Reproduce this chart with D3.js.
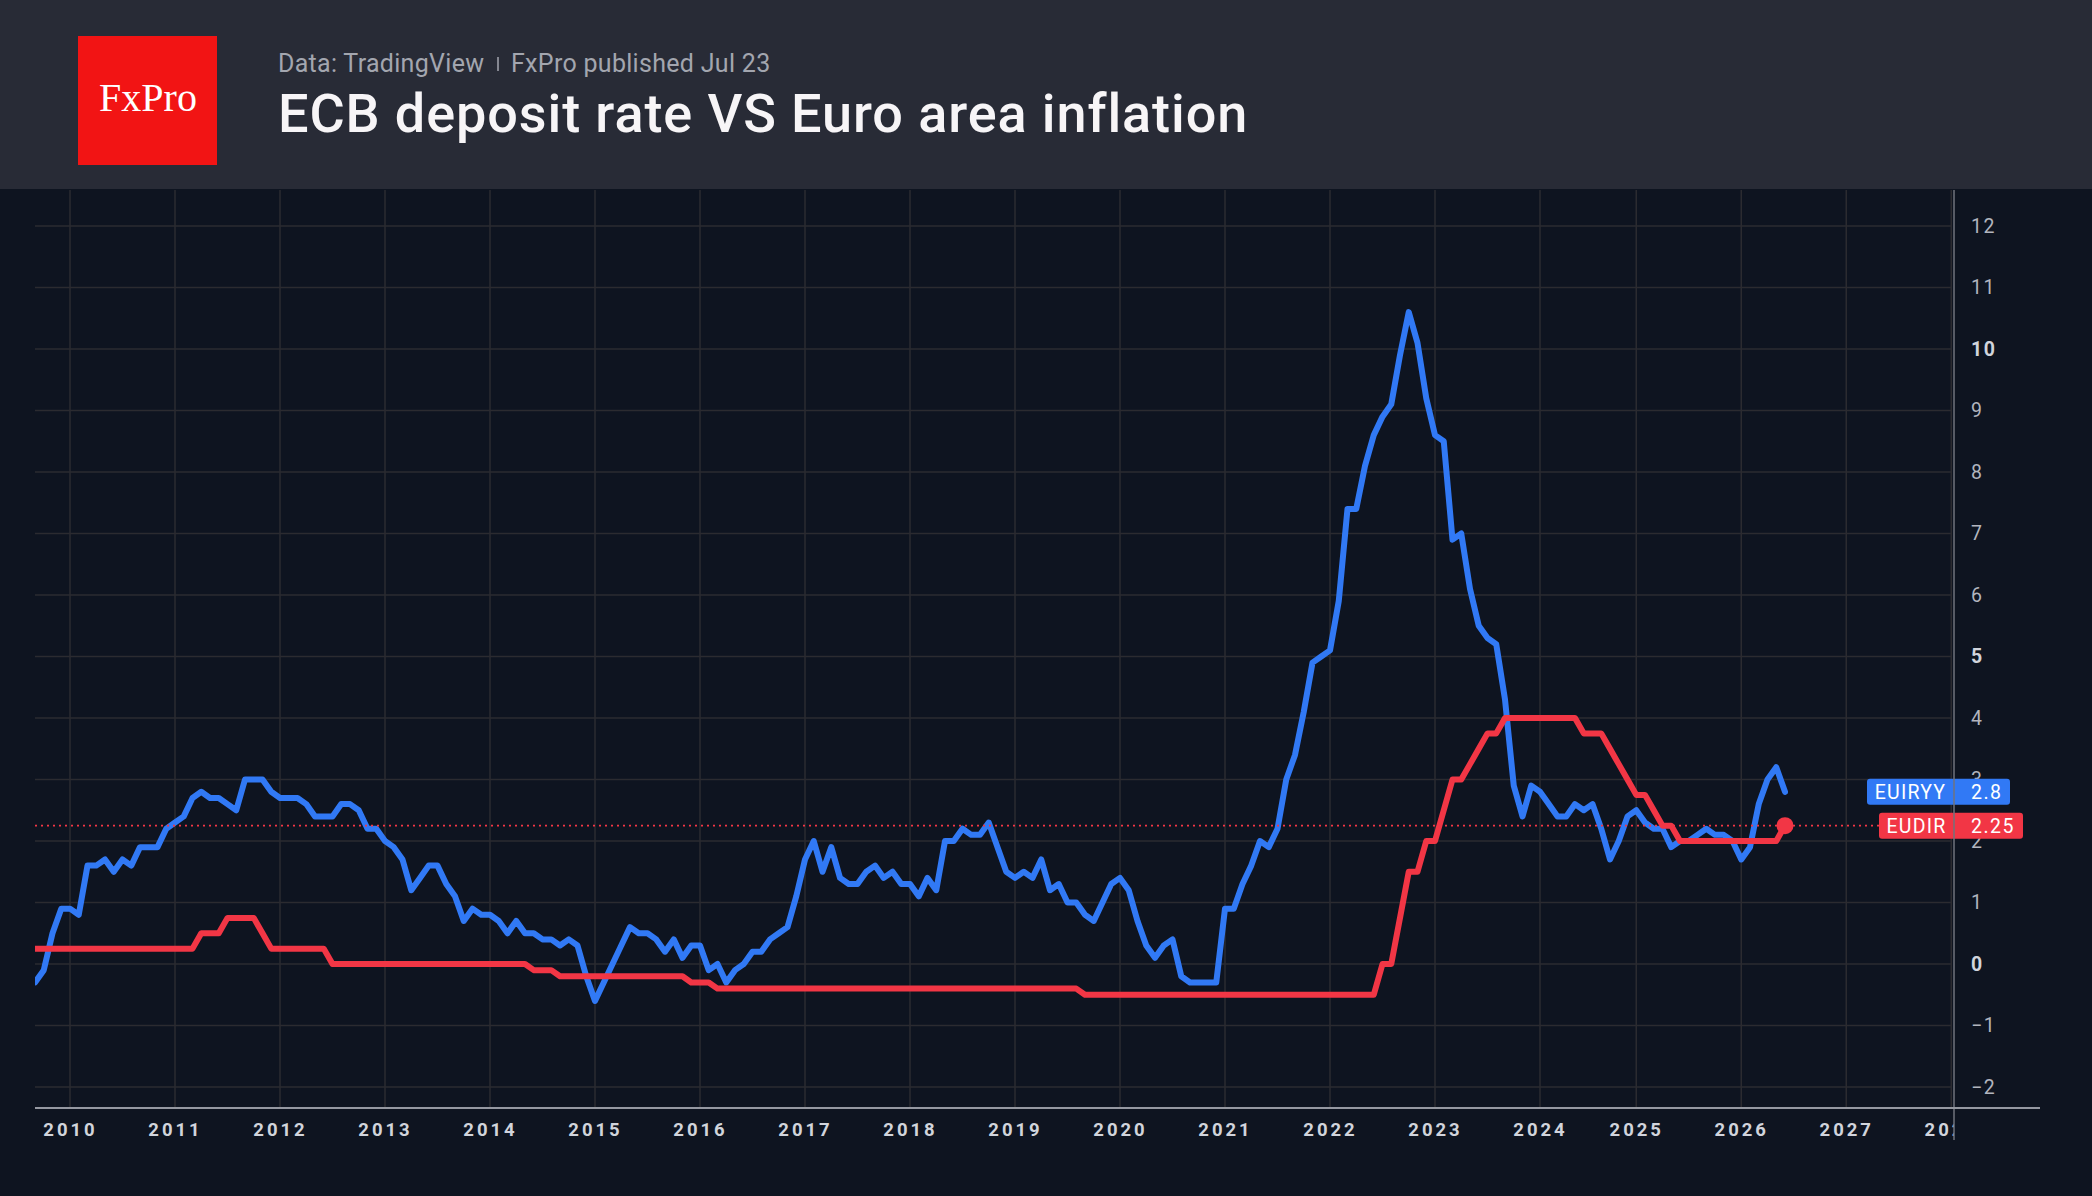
<!DOCTYPE html>
<html>
<head>
<meta charset="utf-8">
<script src="https://cdnjs.cloudflare.com/ajax/libs/d3/7.8.5/d3.min.js"></script>
<style>
  html, body { margin: 0; padding: 0; background: #0e1420; }
  svg { display: block; }
</style>
</head>
<body>
<div id="canvas"></div>
<script>
// monthly bars, Sep 2009 .. Jun 2026 (the feed has no bar for Nov 2024)
const firstBar = new Date(2009, 8, 1);
const lastBar = new Date(2026, 5, 1);
const missingBars = ["2024-11"];

// Euro area inflation, % y/y (EUIRYY)
const euiryy = [
  -0.3, -0.1, 0.5, 0.9,
  0.9, 0.8, 1.6, 1.6, 1.7, 1.5, 1.7, 1.6, 1.9, 1.9, 1.9, 2.2,
  2.3, 2.4, 2.7, 2.8, 2.7, 2.7, 2.6, 2.5, 3.0, 3.0, 3.0, 2.8,
  2.7, 2.7, 2.7, 2.6, 2.4, 2.4, 2.4, 2.6, 2.6, 2.5, 2.2, 2.2,
  2.0, 1.9, 1.7, 1.2, 1.4, 1.6, 1.6, 1.3, 1.1, 0.7, 0.9, 0.8,
  0.8, 0.7, 0.5, 0.7, 0.5, 0.5, 0.4, 0.4, 0.3, 0.4, 0.3, -0.2,
  -0.6, -0.3, 0.0, 0.3, 0.6, 0.5, 0.5, 0.4, 0.2, 0.4, 0.1, 0.3,
  0.3, -0.1, 0.0, -0.3, -0.1, 0.0, 0.2, 0.2, 0.4, 0.5, 0.6, 1.1,
  1.7, 2.0, 1.5, 1.9, 1.4, 1.3, 1.3, 1.5, 1.6, 1.4, 1.5, 1.3,
  1.3, 1.1, 1.4, 1.2, 2.0, 2.0, 2.2, 2.1, 2.1, 2.3, 1.9, 1.5,
  1.4, 1.5, 1.4, 1.7, 1.2, 1.3, 1.0, 1.0, 0.8, 0.7, 1.0, 1.3,
  1.4, 1.2, 0.7, 0.3, 0.1, 0.3, 0.4, -0.2, -0.3, -0.3, -0.3, -0.3,
  0.9, 0.9, 1.3, 1.6, 2.0, 1.9, 2.2, 3.0, 3.4, 4.1, 4.9, 5.0,
  5.1, 5.9, 7.4, 7.4, 8.1, 8.6, 8.9, 9.1, 9.9, 10.6, 10.1, 9.2,
  8.6, 8.5, 6.9, 7.0, 6.1, 5.5, 5.3, 5.2, 4.3, 2.9, 2.4, 2.9,
  2.8, 2.6, 2.4, 2.4, 2.6, 2.5, 2.6, 2.2, 1.7, 2.0, 2.4,
  2.5, 2.3, 2.2, 2.2, 1.9, 2.0, 2.0, 2.1, 2.2, 2.1, 2.1, 2.0,
  1.7, 1.9, 2.6, 3.0, 3.2, 2.8
];

// ECB deposit facility rate, % (EUDIR)
const eudir = [
  0.25, 0.25, 0.25, 0.25,
  0.25, 0.25, 0.25, 0.25, 0.25, 0.25, 0.25, 0.25, 0.25, 0.25, 0.25, 0.25,
  0.25, 0.25, 0.25, 0.5, 0.5, 0.5, 0.75, 0.75, 0.75, 0.75, 0.5, 0.25,
  0.25, 0.25, 0.25, 0.25, 0.25, 0.25, 0, 0, 0, 0, 0, 0,
  0, 0, 0, 0, 0, 0, 0, 0, 0, 0, 0, 0,
  0, 0, 0, 0, 0, -0.1, -0.1, -0.1, -0.2, -0.2, -0.2, -0.2,
  -0.2, -0.2, -0.2, -0.2, -0.2, -0.2, -0.2, -0.2, -0.2, -0.2, -0.2, -0.3,
  -0.3, -0.3, -0.4, -0.4, -0.4, -0.4, -0.4, -0.4, -0.4, -0.4, -0.4, -0.4,
  -0.4, -0.4, -0.4, -0.4, -0.4, -0.4, -0.4, -0.4, -0.4, -0.4, -0.4, -0.4,
  -0.4, -0.4, -0.4, -0.4, -0.4, -0.4, -0.4, -0.4, -0.4, -0.4, -0.4, -0.4,
  -0.4, -0.4, -0.4, -0.4, -0.4, -0.4, -0.4, -0.4, -0.5, -0.5, -0.5, -0.5,
  -0.5, -0.5, -0.5, -0.5, -0.5, -0.5, -0.5, -0.5, -0.5, -0.5, -0.5, -0.5,
  -0.5, -0.5, -0.5, -0.5, -0.5, -0.5, -0.5, -0.5, -0.5, -0.5, -0.5, -0.5,
  -0.5, -0.5, -0.5, -0.5, -0.5, -0.5, 0, 0, 0.75, 1.5, 1.5, 2.0,
  2.0, 2.5, 3.0, 3.0, 3.25, 3.5, 3.75, 3.75, 4.0, 4.0, 4.0, 4.0,
  4.0, 4.0, 4.0, 4.0, 4.0, 3.75, 3.75, 3.75, 3.5, 3.25, 3.0,
  2.75, 2.75, 2.5, 2.25, 2.25, 2.0, 2.0, 2.0, 2.0, 2.0, 2.0, 2.0,
  2.0, 2.0, 2.0, 2.0, 2.0, 2.25
];

const yearTicks = [2010, 2011, 2012, 2013, 2014, 2015, 2016, 2017, 2018, 2019,
                   2020, 2021, 2022, 2023, 2024, 2025, 2026, 2027, 2028];
const priceTicks = [-2, -1, 0, 1, 2, 3, 4, 5, 6, 7, 8, 9, 10, 11, 12];
const boldTicks = [0, 5, 10];

const W = 2092, H = 1196;
const headerH = 189;
const pane = {left: 35, right: 1954, top: 190, bottom: 1108};
const barStep = 8.75;

const blue = "#3179f5";
const red = "#f23645";

// bar dates, used as the x position (index) like the source chart
const fmtMonth = d3.timeFormat("%Y-%m");
const bars = d3.timeMonth.range(firstBar, d3.timeMonth.offset(lastBar, 1))
  .filter(function(d) { return missingBars.indexOf(fmtMonth(d)) < 0; });

function barIndex(date) {
  const i = bars.findIndex(function(d) { return +d === +date; });
  if (i >= 0) return i;
  return bars.length - 1 + d3.timeMonth.count(bars[bars.length - 1], date);
}

const data = bars.map(function(d, i) {
  return {i: i, date: d, infl: euiryy[i], rate: eudir[i]};
});

const x = d3.scaleLinear()
  .domain([0, (pane.right - pane.left) / barStep])
  .range([pane.left, pane.right]);

const y = d3.scaleLinear()
  .domain([-2, 12])
  .range([1087, 226]);

const svg = d3.select("#canvas")
  .append("svg")
    .attr("width", W)
    .attr("height", H);

svg.append("rect")
  .attr("width", W).attr("height", H)
  .attr("fill", "#0e1420");

const defs = svg.append("defs");
defs.append("clipPath").attr("id", "paneClip")
  .append("rect")
    .attr("x", pane.left).attr("y", pane.top)
    .attr("width", pane.right - pane.left)
    .attr("height", pane.bottom - pane.top);
defs.append("clipPath").attr("id", "xLabelClip")
  .append("rect")
    .attr("x", 0).attr("y", pane.bottom)
    .attr("width", pane.right).attr("height", H - pane.bottom);

// grid
const grid = svg.append("g").attr("clip-path", "url(#paneClip)");
grid.selectAll(".hgrid")
  .data(priceTicks)
  .enter()
  .append("line")
    .attr("x1", pane.left).attr("x2", pane.right - 3)
    .attr("y1", function(d) { return y(d); })
    .attr("y2", function(d) { return y(d); })
    .attr("stroke", "#2b2b30")
    .attr("stroke-width", 1.5);

const tickIdx = yearTicks.map(function(yr) { return barIndex(new Date(yr, 0, 1)); });

grid.selectAll(".vgrid")
  .data(tickIdx)
  .enter()
  .append("line")
    .attr("x1", function(d) { return x(d); })
    .attr("x2", function(d) { return x(d); })
    .attr("y1", pane.top).attr("y2", pane.bottom)
    .attr("stroke", "#2b2b30")
    .attr("stroke-width", 1.5);

// y axis (right)
const yAxis = svg.append("g")
  .attr("transform", "translate(" + pane.right + ",0)")
  .call(d3.axisRight(y).tickValues(priceTicks).tickSize(0).tickPadding(17).tickFormat(d3.format("d")));
yAxis.select(".domain").remove();
yAxis.selectAll("text")
  .attr("font-family", "Roboto, sans-serif")
  .attr("font-size", 19.5)
  .attr("letter-spacing", "1.5px")
  .attr("font-weight", function(d) { return boldTicks.indexOf(d) >= 0 ? 700 : 400; })
  .attr("fill", function(d) { return boldTicks.indexOf(d) >= 0 ? "#d1d4dc" : "#b2b5be"; });

// x axis (years)
const xAxisWrap = svg.append("g").attr("clip-path", "url(#xLabelClip)");
const xAxis = xAxisWrap.append("g")
  .attr("transform", "translate(0," + pane.bottom + ")")
  .call(d3.axisBottom(x).tickValues(tickIdx).tickSize(0).tickPadding(15)
    .tickFormat(function(d, i) { return yearTicks[i]; }));
xAxis.select(".domain").remove();
xAxis.selectAll("text")
  .attr("font-family", "Roboto, sans-serif")
  .attr("font-size", 18.5)
  .attr("font-weight", 700)
  .attr("letter-spacing", "3px")
  .attr("fill", "#d1d4dc");

// series
const plot = svg.append("g").attr("clip-path", "url(#paneClip)");

const lineInfl = d3.line()
  .x(function(d) { return x(d.i); })
  .y(function(d) { return y(d.infl); });
const lineRate = d3.line()
  .x(function(d) { return x(d.i); })
  .y(function(d) { return y(d.rate); });

plot.append("path")
  .datum(data)
  .attr("fill", "none")
  .attr("stroke", blue)
  .attr("stroke-width", 6)
  .attr("stroke-linejoin", "round")
  .attr("stroke-linecap", "round")
  .attr("d", lineInfl);

plot.append("path")
  .datum(data)
  .attr("fill", "none")
  .attr("stroke", red)
  .attr("stroke-width", 6)
  .attr("stroke-linejoin", "round")
  .attr("stroke-linecap", "round")
  .attr("d", lineRate);

const last = data[data.length - 1];

// dotted price line for the rate
svg.append("line")
  .attr("x1", pane.left).attr("x2", 1879)
  .attr("y1", y(last.rate)).attr("y2", y(last.rate))
  .attr("stroke", red)
  .attr("stroke-width", 1.8)
  .attr("stroke-dasharray", "2,4");

svg.append("circle")
  .attr("cx", x(last.i))
  .attr("cy", y(last.rate))
  .attr("r", 8.5)
  .attr("fill", red);

// last value labels on the price scale
const tags = [
  {name: "EUIRYY", value: last.infl, color: blue, left: 1867, right: 2010},
  {name: "EUDIR", value: last.rate, color: red, left: 1879, right: 2023}
];
const tag = svg.selectAll(".tag")
  .data(tags)
  .enter()
  .append("g");
tag.append("rect")
  .attr("x", function(d) { return d.left; })
  .attr("y", function(d) { return y(d.value) - 13; })
  .attr("width", function(d) { return d.right - d.left; })
  .attr("height", 26)
  .attr("rx", 3)
  .attr("fill", function(d) { return d.color; });
tag.append("text")
  .attr("x", function(d) { return (d.left + pane.right) / 2; })
  .attr("y", function(d) { return y(d.value); })
  .attr("dy", "0.36em")
  .attr("text-anchor", "middle")
  .attr("font-family", "Roboto, sans-serif")
  .attr("font-size", 19.5)
  .attr("letter-spacing", "1.2px")
  .attr("fill", "#fff")
  .text(function(d) { return d.name; });
tag.append("text")
  .attr("x", pane.right + 17)
  .attr("y", function(d) { return y(d.value); })
  .attr("dy", "0.36em")
  .attr("font-family", "Roboto, sans-serif")
  .attr("font-size", 19.5)
  .attr("letter-spacing", "1.5px")
  .attr("fill", "#fff")
  .text(function(d) { return d.value; });

// scale borders
svg.append("line")
  .attr("x1", pane.right).attr("x2", pane.right)
  .attr("y1", pane.top).attr("y2", 1140)
  .attr("stroke", "#70737c")
  .attr("stroke-width", 1.5);
svg.append("line")
  .attr("x1", pane.left).attr("x2", 2040)
  .attr("y1", pane.bottom).attr("y2", pane.bottom)
  .attr("stroke", "#9598a1")
  .attr("stroke-width", 2);

// header
const header = svg.append("g");
header.append("rect")
  .attr("width", W).attr("height", headerH)
  .attr("fill", "#282b36");
header.append("rect")
  .attr("x", 78).attr("y", 36)
  .attr("width", 139).attr("height", 129)
  .attr("fill", "#f21414");
header.append("text")
  .attr("x", 148).attr("y", 111)
  .attr("text-anchor", "middle")
  .attr("font-family", "'Liberation Serif', serif")
  .attr("font-size", 40)
  .attr("fill", "#fff")
  .text("FxPro");
header.append("text")
  .attr("x", 278).attr("y", 72)
  .attr("font-family", "Roboto, sans-serif")
  .attr("font-size", 25)
  .attr("letter-spacing", "0.3px")
  .attr("fill", "#a3a6af")
  .text("Data: TradingView");
header.append("line")
  .attr("x1", 498).attr("x2", 498)
  .attr("y1", 57).attr("y2", 71)
  .attr("stroke", "#a3a6af")
  .attr("stroke-width", 1.5);
header.append("text")
  .attr("x", 511).attr("y", 72)
  .attr("font-family", "Roboto, sans-serif")
  .attr("font-size", 25)
  .attr("letter-spacing", "0.3px")
  .attr("fill", "#a3a6af")
  .text("FxPro published Jul 23");
header.append("text")
  .attr("x", 278).attr("y", 132)
  .attr("font-family", "Roboto, sans-serif")
  .attr("font-weight", 500)
  .attr("font-size", 54)
  .attr("letter-spacing", "0.9px")
  .attr("fill", "#f7f5f7")
  .text("ECB deposit rate VS Euro area inflation");
</script>
</body>
</html>
